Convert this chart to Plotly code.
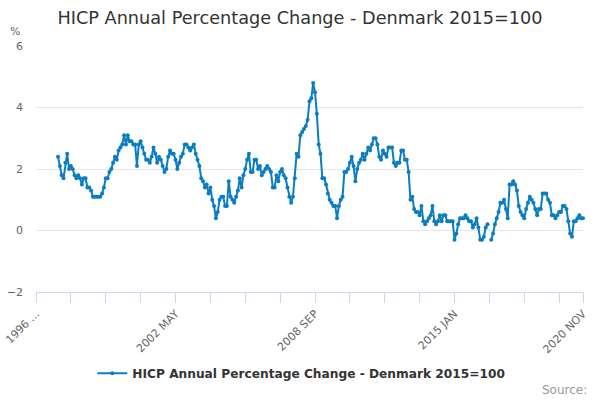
import plotly.graph_objects as go

MONTHS = ["JAN", "FEB", "MAR", "APR", "MAY", "JUN", "JUL", "AUG", "SEP", "OCT", "NOV", "DEC"]
YEARS = list(range(1996, 2021))

# HICP annual % change, Denmark (monthly)
y1996 = [None, None, None, None, None, None, None, None, None, None, None, None]
y1997 = [2.4, 2.1, 1.8, 1.7, 2.2, 2.5, 2.0, 2.1, 2.0, 1.8, 1.7, 1.8]
y1998 = [1.7, 1.5, 1.7, 1.7, 1.4, 1.4, 1.3, 1.1, 1.1, 1.1, 1.1, 1.1]
y1999 = [1.2, 1.4, 1.7, 1.7, 1.9, 2.0, 2.2, 2.4, 2.3, 2.6, 2.7, 2.8]
y2000 = [3.1, 2.8, 3.1, 2.9, 2.9, 2.8, 2.8, 2.1, 2.8, 2.9, 2.7, 2.5]
y2001 = [2.3, 2.3, 2.2, 2.4, 2.7, 2.5, 2.2, 2.4, 2.3, 2.1, 1.9, 2.0]
y2002 = [2.4, 2.6, 2.5, 2.5, 2.3, 2.0, 2.2, 2.4, 2.5, 2.8, 2.8, 2.7]
y2003 = [2.6, 2.7, 2.8, 2.5, 2.3, 2.1, 1.7, 1.6, 1.4, 1.5, 1.2, 1.4]
y2004 = [1.0, 0.8, 0.4, 0.6, 1.0, 1.1, 1.1, 0.8, 0.8, 1.6, 1.1, 1.0]
y2005 = [0.9, 1.1, 1.3, 1.7, 1.4, 1.8, 2.0, 2.3, 2.5, 1.9, 1.9, 2.3]
y2006 = [2.3, 2.0, 2.1, 1.8, 1.9, 2.0, 2.1, 2.0, 1.9, 1.4, 1.4, 1.8]
y2007 = [1.6, 1.9, 2.0, 1.8, 1.7, 1.4, 1.1, 0.9, 1.1, 1.7, 2.5, 2.4]
y2008 = [3.1, 3.2, 3.3, 3.4, 3.6, 4.2, 4.3, 4.8, 4.5, 3.8, 2.8, 2.5]
y2009 = [1.7, 1.7, 1.5, 1.2, 1.0, 0.9, 0.8, 0.8, 0.4, 0.8, 1.0, 1.1]
y2010 = [1.9, 1.9, 2.0, 2.2, 2.4, 2.1, 1.6, 2.0, 2.2, 2.3, 2.5, 2.3]
y2011 = [2.5, 2.7, 2.6, 2.8, 3.0, 3.0, 2.8, 2.4, 2.3, 2.6, 2.5, 2.4]
y2012 = [2.7, 2.7, 2.7, 2.2, 2.1, 2.2, 2.2, 2.6, 2.6, 2.3, 2.3, 1.9]
y2013 = [1.0, 1.1, 0.7, 0.6, 0.6, 0.5, 0.8, 0.3, 0.2, 0.3, 0.4, 0.5]
y2014 = [0.8, 0.3, 0.2, 0.3, 0.5, 0.3, 0.5, 0.5, 0.3, 0.3, 0.3, 0.3]
y2015 = [-0.3, -0.1, 0.2, 0.4, 0.4, 0.4, 0.5, 0.4, 0.3, 0.3, 0.1, 0.2]
y2016 = [0.4, 0.1, -0.3, -0.3, -0.2, 0.1, 0.2, None, -0.3, -0.1, 0.2, 0.4]
y2017 = [0.6, 0.9, 0.9, 1.0, 0.7, 0.4, 1.5, 1.5, 1.6, 1.5, 1.3, 0.8]
y2018 = [0.6, 0.5, 0.4, 0.7, 0.9, 1.1, 1.0, 0.9, 0.7, 0.5, 0.7, 0.7]
y2019 = [1.2, 1.2, 1.2, 1.0, 0.9, 0.5, 0.5, 0.4, 0.5, 0.6, 0.6, 0.8]
y2020 = [0.8, 0.7, 0.3, -0.1, -0.2, 0.3, 0.3, 0.4, 0.5, 0.4, 0.4]

values = (y1996 + y1997 + y1998 + y1999 + y2000 + y2001 + y2002 + y2003 + y2004
          + y2005 + y2006 + y2007 + y2008 + y2009 + y2010 + y2011 + y2012 + y2013
          + y2014 + y2015 + y2016 + y2017 + y2018 + y2019 + y2020)

categories = [f"{y} {m}" for y in YEARS for m in MONTHS][:len(values)]

# axis ticks: every 19th month, labels every 76th month, plus final month
tick_step = 19
label_step = 76
tick_idx = list(range(0, len(categories) - 1, tick_step)) + [len(categories) - 1]
tick_vals = [categories[i] for i in tick_idx]
tick_text = []
for i in tick_idx:
    if i == 0:
        tick_text.append("1996 ...")
    elif i % label_step == 0 or i == len(categories) - 1:
        tick_text.append(categories[i])
    else:
        tick_text.append("")

series_name = "HICP Annual Percentage Change - Denmark 2015=100"
FONT = "DejaVu Sans"

fig = go.Figure()
fig.add_trace(go.Scatter(
    x=categories, y=values, name=series_name,
    mode="lines+markers",
    line=dict(color="#0b7dc2", width=2),
    marker=dict(color="#0b7dc2", size=4),
    connectgaps=False, cliponaxis=False,
))

fig.update_layout(
    width=600, height=400,
    margin=dict(l=36, r=17, t=46, b=108, autoexpand=False),
    paper_bgcolor="white", plot_bgcolor="white",
    font=dict(family=FONT, color="#666666", size=11),
    title=dict(text="HICP Annual Percentage Change - Denmark 2015=100",
               x=0.5, xanchor="center", y=1 - 18 / 400, yanchor="middle",
               font=dict(family=FONT, size=17.7, color="#333333")),
    showlegend=True,
    legend=dict(orientation="h", x=0.485, xanchor="center", y=-0.33, yanchor="middle",
                font=dict(family=FONT, size=12.2, color="#333333", weight="bold"),
                itemwidth=30),
    xaxis=dict(type="category", range=[0, len(categories) - 1], automargin=False,
               tickmode="array", tickvals=tick_vals, ticktext=tick_text,
               tickangle=-45, ticks="outside", ticklen=10, tickcolor="#ccd6eb",
               showline=True, linecolor="#ccd6eb", linewidth=1,
               showgrid=False, zeroline=False,
               tickfont=dict(family=FONT, size=11, color="#666666")),
    yaxis=dict(range=[-2, 6], dtick=2, tick0=0, showgrid=True, gridcolor="#e6e6e6",
               zeroline=False, showline=False, ticklabelstandoff=12, automargin=False,
               tickfont=dict(family=FONT, size=11, color="#666666")),
    annotations=[
        dict(text="%", xref="paper", yref="paper", x=-0.038, y=1.057,
             xanchor="center", yanchor="middle", showarrow=False,
             font=dict(family=FONT, size=11, color="#666666")),
        dict(text="Source:", xref="paper", yref="paper", x=1.011, y=-0.398,
             xanchor="right", yanchor="middle", showarrow=False,
             font=dict(family=FONT, size=12, color="#999999")),
    ],
)

fig.write_html("out.html", config={"displayModeBar": False},
               post_script="document.body.style.margin='0px';document.body.style.overflow='hidden';")
